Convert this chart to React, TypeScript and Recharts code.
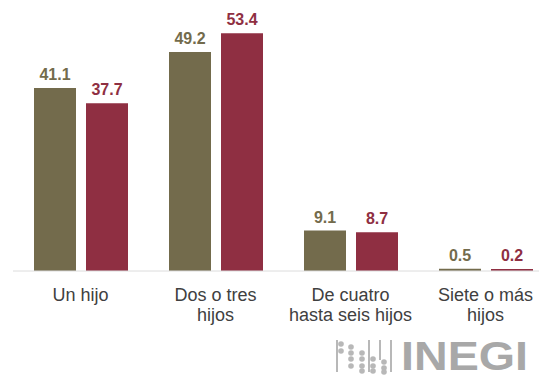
import React from "react";
import { BarChart, Bar, XAxis, YAxis, LabelList } from "recharts";

const categories = ["Un hijo", "Dos o tres hijos", "De cuatro hasta seis hijos", "Siete o más hijos"];
const tickLines = [["Un hijo"], ["Dos o tres", "hijos"], ["De cuatro", "hasta seis hijos"], ["Siete o más", "hijos"]];
const seriesA = [41.1, 49.2, 9.1, 0.5];
const seriesB = [37.7, 53.4, 8.7, 0.2];

const OLIVE = "#736b4c";
const MAROON = "#8f2f42";

const data = categories.map((c, i) => ({ name: c, a: seriesA[i], b: seriesB[i], idx: i }));

const Tick = (props: any) => {
  const { x, y, payload } = props;
  const lines = tickLines[payload.index] || [payload.value];
  return (
    <g>
      {lines.map((l: string, i: number) => (
        <text
          key={i}
          x={x}
          y={y}
          dy={22 + i * 20}
          textAnchor="middle"
          fill="#404040"
          fontSize={18}
          fontFamily="'Liberation Sans', Arial, sans-serif"
        >
          {l}
        </text>
      ))}
    </g>
  );
};

const fmt = (v: any) => Number(v).toFixed(1);

const dots: [number, number][] = [
  [341, 344], [341, 351],
  [351, 347], [351, 353], [351, 359], [351, 366],
  [362, 353], [362, 359], [362, 366], [362, 371],
  [373, 359], [373, 366], [373, 371],
  [384, 362], [384, 368], [384, 372],
];

export default function App() {
  return (
    <div style={{ position: "absolute", left: 0, top: 0, width: 539, height: 379, overflow: "hidden", background: "#fff" }}>
      <BarChart
        width={560}
        height={379}
        data={data}
        margin={{ top: 4, right: 7, bottom: 0, left: 13 }}
        barSize={42}
        barGap={10}
      >
        <YAxis hide domain={[0, 60]} />
        <XAxis
          dataKey="name"
          height={108}
          axisLine={{ stroke: "#dcdcdc" }}
          tickLine={false}
          tick={<Tick />}
          interval={0}
        />
        <Bar dataKey="a" fill={OLIVE} isAnimationActive={false} minPointSize={2}>
          <LabelList
            dataKey="a"
            position="top"
            offset={8}
            formatter={fmt}
            fill={OLIVE}
            fontSize={16}
            fontWeight="bold"
            fontFamily="'Liberation Sans', Arial, sans-serif"
          />
        </Bar>
        <Bar dataKey="b" fill={MAROON} isAnimationActive={false} minPointSize={2}>
          <LabelList
            dataKey="b"
            position="top"
            offset={8}
            formatter={fmt}
            fill={MAROON}
            fontSize={16}
            fontWeight="bold"
            fontFamily="'Liberation Sans', Arial, sans-serif"
          />
        </Bar>
      </BarChart>
      <svg width={539} height={379} style={{ position: "absolute", left: 0, top: 0, pointerEvents: "none" }}>
        <g fill="#b8b8b8">
          {dots.map(([cx, cy], i) => (
            <circle key={i} cx={cx} cy={cy} r={2.8} />
          ))}
          <rect x={336} y={340} width={2} height={32} />
          <rect x={368} y={340} width={2} height={32} />
          <rect x={379} y={340} width={2} height={20} />
          <rect x={390} y={340} width={2} height={32} />
        </g>
        <text
          x={401}
          y={370}
          fontSize={41}
          fontWeight="bold"
          fill="#a8a8a8"
          fontFamily="'Liberation Sans', Arial, sans-serif"
          textLength={127}
          lengthAdjust="spacingAndGlyphs"
        >
          INEGI
        </text>
      </svg>
    </div>
  );
}
